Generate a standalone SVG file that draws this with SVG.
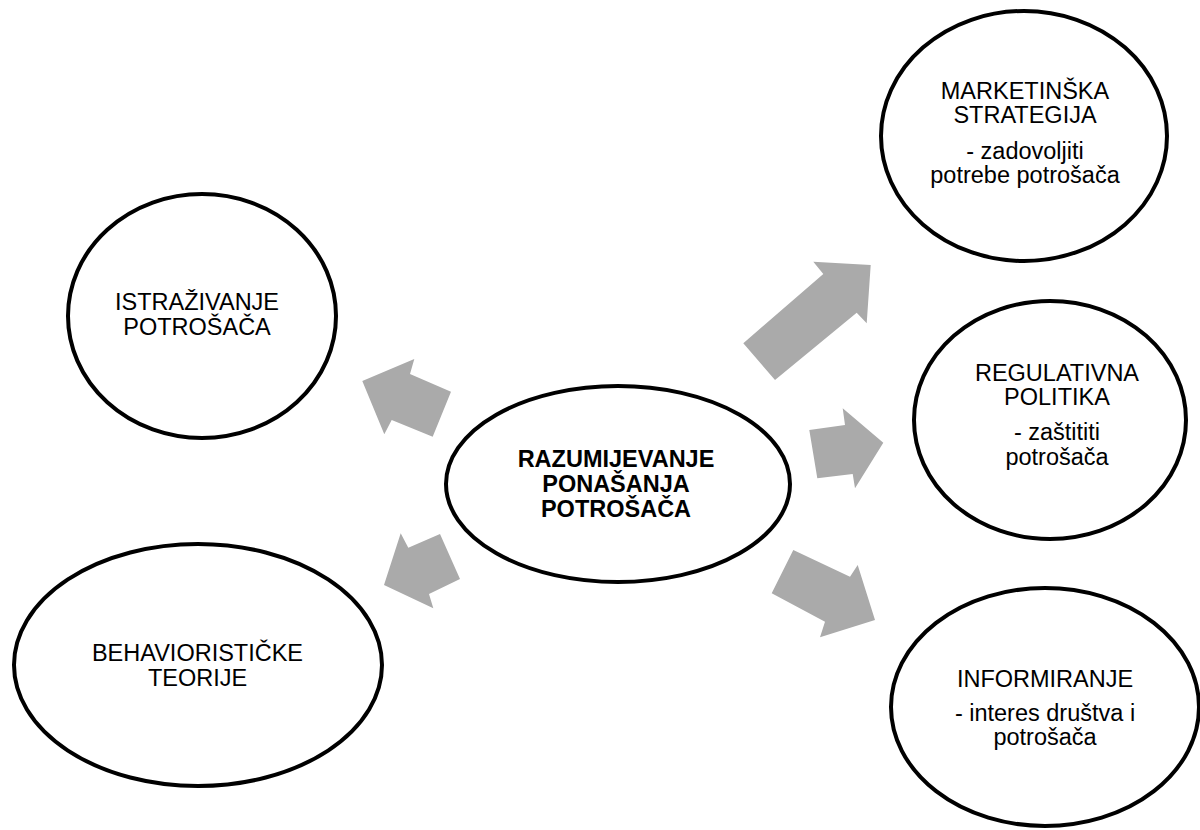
<svg xmlns="http://www.w3.org/2000/svg" width="1200" height="830" viewBox="0 0 1200 830">
<style>
.node{fill:#ffffff;stroke:#000000;stroke-width:4}
.arrow{fill:#aaaaaa;stroke:none}
text{font-family:"Liberation Sans",Arial,sans-serif;font-size:23.5px;fill:#000000;text-anchor:middle}
.bold{font-weight:bold}
</style>
<rect width="1200" height="830" fill="#ffffff"/>
<g id="connectors">
<polygon class="arrow" points="743.3,343.3 823.3,274 813.3,261.7 870.7,265 866.7,323.3 856.7,312.7 775,380"/>
<polygon class="arrow" points="809.3,430 845,425 842.7,408.3 883.3,442.7 855,488.3 852.7,474 817.3,478.3"/>
<polygon class="arrow" points="793.3,550 850,576.7 857.7,565 875,620 820,637.3 825,621.7 771.7,593.3"/>
<polygon class="arrow" points="451,391.7 432.7,436.7 391.7,420 384.3,434.3 362.3,381 414.3,359 410,374"/>
<polygon class="arrow" points="440,534 460,579 429,594 433.3,608.3 384,585 400.7,533.3 408.3,547.7"/>
</g>
<g id="node-center">
<ellipse class="node" cx="618" cy="484" rx="172" ry="98"/>
<text class="bold" x="616" y="467">RAZUMIJEVANJE</text>
<text class="bold" x="616" y="492">PONAŠANJA</text>
<text class="bold" x="616" y="517">POTROŠAČA</text>
</g>
<g id="node-marketing">
<ellipse class="node" cx="1024" cy="136" rx="143" ry="125"/>
<text x="1025" y="99">MARKETINŠKA</text>
<text x="1025" y="123">STRATEGIJA</text>
<text x="1025" y="159">- zadovoljiti</text>
<text x="1025" y="183">potrebe potrošača</text>
</g>
<g id="node-regulativna">
<ellipse class="node" cx="1050" cy="420" rx="136" ry="119"/>
<text x="1057" y="381">REGULATIVNA</text>
<text x="1057" y="405">POLITIKA</text>
<text x="1057" y="440">- zaštititi</text>
<text x="1057" y="465">potrošača</text>
</g>
<g id="node-informiranje">
<ellipse class="node" cx="1045" cy="707" rx="154" ry="119"/>
<text x="1045" y="687">INFORMIRANJE</text>
<text x="1045" y="721">- interes društva i</text>
<text x="1045" y="745">potrošača</text>
</g>
<g id="node-istrazivanje">
<ellipse class="node" cx="202" cy="316" rx="134" ry="122"/>
<text x="197" y="310">ISTRAŽIVANJE</text>
<text x="197" y="335">POTROŠAČA</text>
</g>
<g id="node-behavioristicke">
<ellipse class="node" cx="198" cy="665" rx="184" ry="121"/>
<text x="197.5" y="661">BEHAVIORISTIČKE</text>
<text x="197.5" y="686">TEORIJE</text>
</g>
</svg>
